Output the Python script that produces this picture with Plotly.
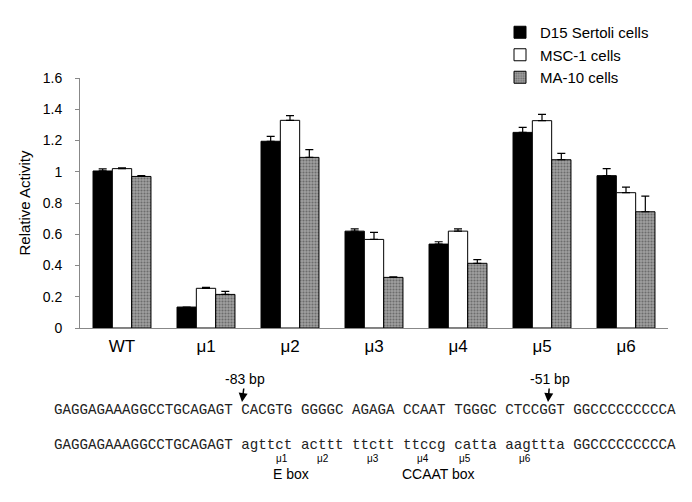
import plotly.graph_objects as go

categories = ["WT", "μ1", "μ2", "μ3", "μ4", "μ5", "μ6"]
series_names = ["D15 Sertoli cells", "MSC-1 cells", "MA-10 cells"]
d15 = [1.005, 0.134, 1.195, 0.62, 0.537, 1.252, 0.975]
d15_err = [0.013, 0.0, 0.032, 0.015, 0.015, 0.032, 0.045]
msc1 = [1.02, 0.254, 1.329, 0.567, 0.62, 1.327, 0.866]
msc1_err = [0.005, 0.006, 0.03, 0.045, 0.015, 0.04, 0.035]
ma10 = [0.97, 0.215, 1.092, 0.324, 0.414, 1.077, 0.744]
ma10_err = [0.005, 0.02, 0.05, 0.003, 0.023, 0.04, 0.10]

wt_seq = "GAGGAGAAAGGCCTGCAGAGT CACGTG GGGGC AGAGA CCAAT TGGGC CTCCGGT GGCCCCCCCCCA"
mut_seq = "GAGGAGAAAGGCCTGCAGAGT agttct acttt ttctt ttccg catta aagttta GGCCCCCCCCCA"
mut_labels = ["μ1", "μ2", "μ3", "μ4", "μ5", "μ6"]

FONT = "Arial, Liberation Sans, sans-serif"
MONO = "Courier New, Liberation Mono, monospace"

fig = go.Figure()
styles = [
    dict(color="black", pattern=None),
    dict(color="white", pattern=None),
    dict(color="#a0a0a0", pattern=dict(shape=".", fgcolor="#383838", size=3, solidity=0.4)),
]
for name, vals, errs, st in zip(series_names, [d15, msc1, ma10], [d15_err, msc1_err, ma10_err], styles):
    marker = dict(color=st["color"], line=dict(color="black", width=1))
    if st["pattern"]:
        marker["pattern"] = st["pattern"]
    fig.add_trace(go.Bar(
        x=categories, y=vals, name=name, marker=marker,
        error_y=dict(type="data", symmetric=False, array=errs,
                     arrayminus=[0] * len(errs), color="black", thickness=1.2, width=4),
    ))

OFF = 8  # page body margin
W, H = 692 - OFF, 502 - OFF
L, R, T, B = 80 - OFF, 24, 78 - OFF, 174
pw, ph = W - L - R, H - T - B

def px(x):  # screen px -> paper
    return (x - OFF - L) / pw

def py(y):
    return (H - B - (y - OFF)) / ph

ann = []
ann.append(dict(x=px(52), y=py(410), xref="paper", yref="paper", text=wt_seq,
                showarrow=False, xanchor="left", yanchor="middle",
                font=dict(family=MONO, size=14.2, color="#222")))
ann.append(dict(x=px(52), y=py(445), xref="paper", yref="paper", text=mut_seq,
                showarrow=False, xanchor="left", yanchor="middle",
                font=dict(family=MONO, size=14.2, color="#222")))
for lab, xx in zip(mut_labels, [274, 323, 373, 423, 473, 533]):
    ann.append(dict(x=px(xx), y=py(466), xref="paper", yref="paper", text=lab,
                    showarrow=False, font=dict(family=FONT, size=10, color="black")))
ann.append(dict(x=px(271), y=py(484), xref="paper", yref="paper", text="E box",
                showarrow=False, font=dict(family=FONT, size=14, color="black")))
ann.append(dict(x=px(438), y=py(484), xref="paper", yref="paper", text="CCAAT box",
                showarrow=False, font=dict(family=FONT, size=14, color="black")))
for lab, xx, tx in [("-83 bp", 242, 245), ("-51 bp", 548, 550)]:
    ann.append(dict(x=px(xx), y=py(402), xref="paper", yref="paper", text=lab,
                    showarrow=True, arrowhead=2, arrowsize=1.2, arrowwidth=1.5,
                    arrowcolor="black", ax=tx - xx, ay=-23,
                    font=dict(family=FONT, size=14, color="black")))

fig.update_layout(
    width=W, height=H,
    margin=dict(l=L, r=R, t=T, b=B, autoexpand=False),
    plot_bgcolor="white", paper_bgcolor="white",
    barmode="group", bargap=0.31, bargroupgap=0,
    font=dict(family=FONT, size=12, color="black"),
    legend=dict(x=px(500), y=py(16), xanchor="left", yanchor="top",
                font=dict(family=FONT, size=15, color="black"),
                tracegroupgap=0, bgcolor="rgba(0,0,0,0)"),
    annotations=ann,
    showlegend=True,
)
fig.update_xaxes(range=[-0.5, 6.5], showline=True, linecolor="#888", linewidth=1,
                 ticks="", tickfont=dict(size=17, family=FONT), showgrid=False,
                 zeroline=False, automargin=False, ticklabelstandoff=3)
fig.update_yaxes(range=[0, 1.6], dtick=0.2, showline=True, linecolor="#888", linewidth=1,
                 ticks="outside", ticklen=4, tickcolor="#888",
                 tickfont=dict(size=14, family=FONT), showgrid=False, zeroline=False,
                 automargin=False, ticklabelstandoff=10,
                 title=dict(text="Relative Activity", font=dict(size=15, family=FONT), standoff=8))

fig.write_html("out.html")
